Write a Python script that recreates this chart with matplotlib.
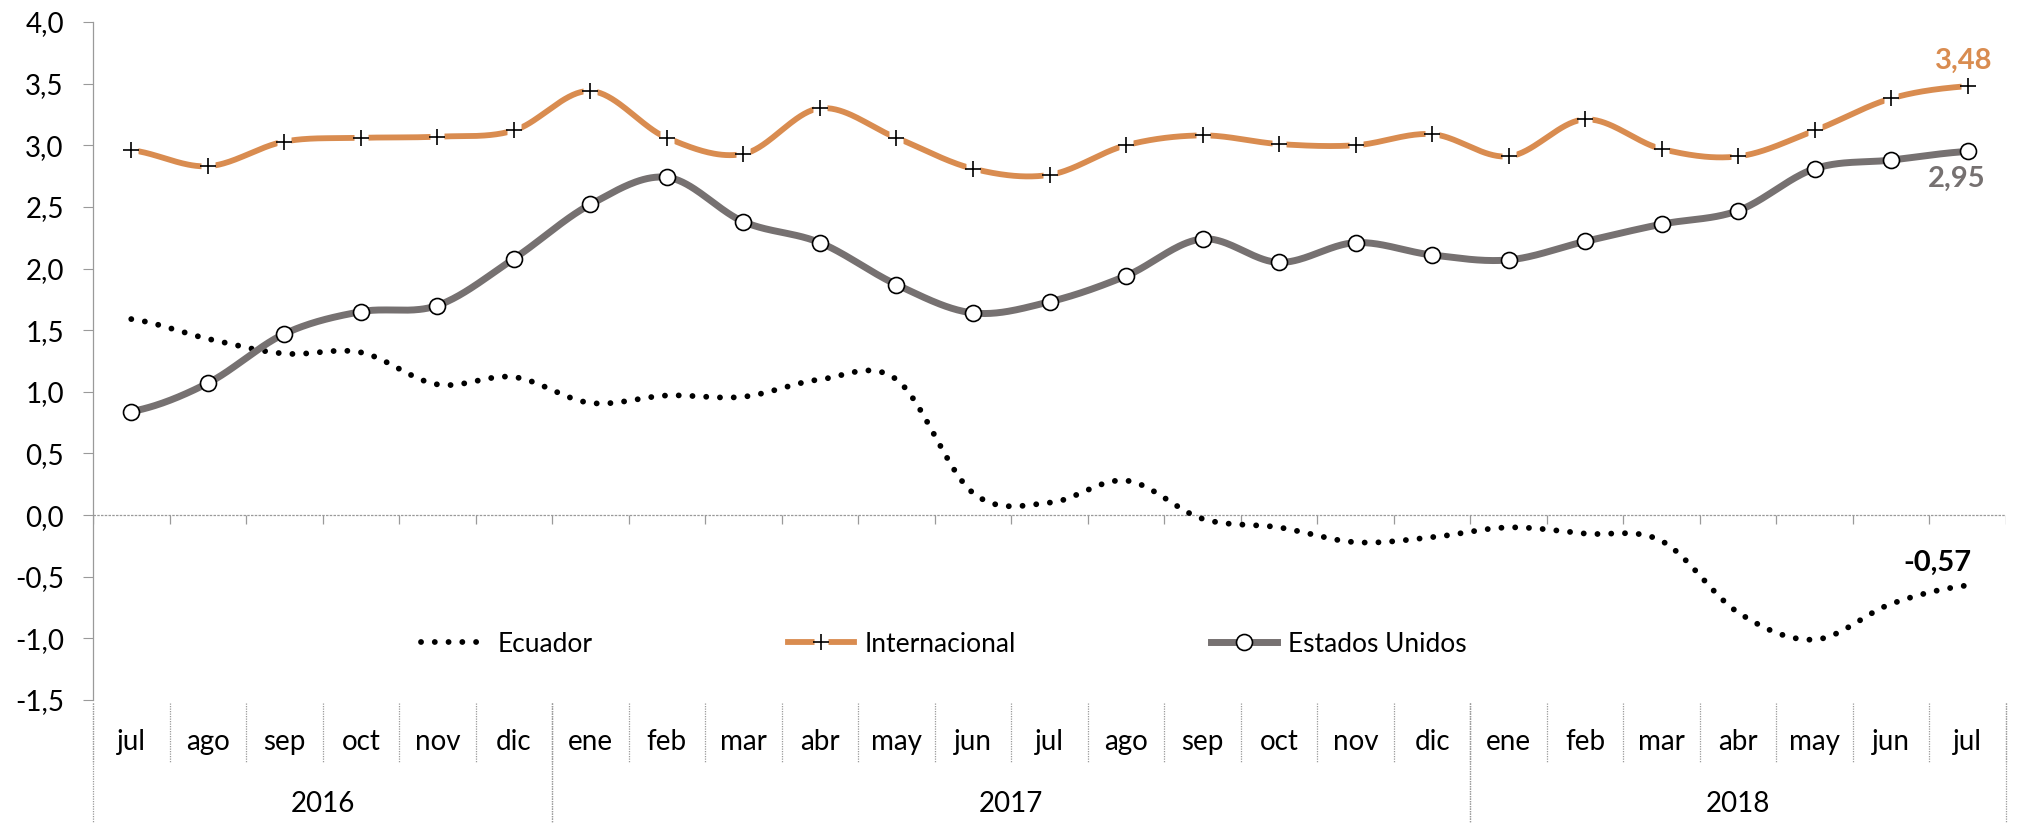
import numpy as np
import matplotlib
matplotlib.use("Agg")
import matplotlib.pyplot as plt
from matplotlib.lines import Line2D
from matplotlib.transforms import blended_transform_factory

plt.rcParams['font.family'] = ['Lato', 'DejaVu Sans']

# data
months = ['jul', 'ago', 'sep', 'oct', 'nov', 'dic',
          'ene', 'feb', 'mar', 'abr', 'may', 'jun', 'jul', 'ago', 'sep', 'oct', 'nov', 'dic',
          'ene', 'feb', 'mar', 'abr', 'may', 'jun', 'jul']
years = ['2016', '2017', '2018']
year_spans = [(0, 6), (6, 18), (18, 25)]

ecuador = [1.59, 1.43, 1.31, 1.32, 1.06, 1.12, 0.91, 0.97, 0.96, 1.10, 1.10, 0.18,
           0.10, 0.28, -0.03, -0.10, -0.22, -0.18, -0.10, -0.15, -0.21, -0.79, -1.01,
           -0.72, -0.57]
internacional = [2.96, 2.83, 3.03, 3.06, 3.07, 3.12, 3.44, 3.06, 2.93, 3.30, 3.06, 2.81,
                 2.76, 3.00, 3.08, 3.01, 3.00, 3.09, 2.91, 3.21, 2.97, 2.91, 3.12,
                 3.38, 3.48]
eeuu = [0.84, 1.07, 1.47, 1.65, 1.70, 2.08, 2.52, 2.74, 2.38, 2.21, 1.87, 1.64, 1.73,
        1.94, 2.24, 2.05, 2.21, 2.11, 2.07, 2.22, 2.36, 2.47, 2.81, 2.88, 2.95]

orange = '#D98C50'
gray = '#767171'
axis_col = '#9A9A9A'


def smooth(vals, n=40):
    # Excel-like smoothed line (Bezier through points, 1/6 tangents)
    y = np.asarray(vals, float)
    p = np.concatenate([[y[0]], y, [y[-1]]])
    t = np.linspace(0, 1, n)
    xs, ys = [], []
    for i in range(len(y) - 1):
        p0, p1, p2, p3 = p[i], p[i + 1], p[i + 2], p[i + 3]
        c1 = p1 + (p2 - p0) / 6
        c2 = p2 - (p3 - p1) / 6
        b = (1 - t) ** 3 * p1 + 3 * (1 - t) ** 2 * t * c1 + 3 * (1 - t) * t ** 2 * c2 + t ** 3 * p2
        xs.append(i + t)
        ys.append(b)
    return np.concatenate(xs), np.concatenate(ys)


W, H = 2028, 823
fig = plt.figure(figsize=(W / 100, H / 100), dpi=100)
ax = fig.add_axes([93 / W, 1 - 700 / H, (2006 - 93) / W, (700 - 22) / H])

x = np.arange(len(months))

# Ecuador dotted
sx, sy = smooth(ecuador)
ax.plot(sx, sy, color='black', lw=4.2, linestyle=(0, (0.01, 2.35)),
        dash_capstyle='round', zorder=3)

# Internacional
sx, sy = smooth(internacional)
ax.plot(sx, sy, color=orange, lw=4.2, solid_capstyle='butt', zorder=3)
ax.plot(x, internacional, ls='none', marker='s', ms=10, mfc='white', mec='none', zorder=4)
ax.plot(x, internacional, ls='none', marker='+', ms=12, mew=1.2, color='black', zorder=5)

# Estados Unidos
sx, sy = smooth(eeuu)
ax.plot(sx, sy, color=gray, lw=5.0, solid_capstyle='round', zorder=3)
ax.plot(x, eeuu, ls='none', marker='o', ms=11.5, mfc='white', mec='black', mew=1.2, zorder=5)

# end labels
ax.annotate('3,48', (x[-1], internacional[-1]), xytext=(-3, 18), textcoords='offset points',
            ha='center', va='center', fontsize=21, fontweight='bold', color=orange)
ax.annotate('2,95', (x[-1], eeuu[-1]), xytext=(-8, -20), textcoords='offset points',
            ha='center', va='center', fontsize=21, fontweight='bold', color=gray)
ax.annotate('-0,57', (x[-1], ecuador[-1]), xytext=(-22, 16), textcoords='offset points',
            ha='center', va='center', fontsize=21, fontweight='bold', color='black')

# axes
ax.set_xlim(-0.5, len(months) - 0.5)
ax.set_ylim(-1.5, 4.0)
ax.set_yticks(np.arange(-1.5, 4.01, 0.5))
ax.set_yticklabels([f'{v:.1f}'.replace('.', ',') for v in np.arange(-1.5, 4.01, 0.5)])
ax.tick_params(axis='y', labelsize=20, length=7, width=0.8, color=axis_col, pad=14)
ax.set_xticks([])
for s in ['top', 'right', 'bottom']:
    ax.spines[s].set_visible(False)
ax.spines['left'].set_color(axis_col)
ax.spines['left'].set_linewidth(0.9)
ax.spines['left'].set_linestyle((0, (1, 1)))

ax.axhline(0, color=axis_col, lw=0.9, ls=(0, (2, 1)), zorder=1)
bounds = np.arange(-0.5, len(months), 1.0)
ax.vlines(bounds, -0.07, 0, color=axis_col, lw=0.9, zorder=1)

# category axis below the plot
tr = blended_transform_factory(ax.transData, fig.transFigure)
y_top = 1 - 703 / H
for b in bounds:
    ax.add_line(Line2D([b, b], [y_top, 1 - 762 / H], transform=tr, color=axis_col,
                       lw=0.9, ls=(0, (1, 1)), clip_on=False))
for i, m in enumerate(months):
    ax.text(i, 1 - 742 / H, m, transform=tr, ha='center', va='center', fontsize=20)
for (a, b), yr in zip(year_spans, years):
    for e in (a - 0.5, b - 0.5):
        ax.add_line(Line2D([e, e], [y_top, 0], transform=tr, color=axis_col,
                           lw=0.9, ls=(0, (1, 1)), clip_on=False))
    ax.text((a + b - 1) / 2, 1 - 804 / H, yr, transform=tr, ha='center', va='center', fontsize=20)

# legend
h_ec = Line2D([], [], color='black', lw=4.2, linestyle=(0, (0.01, 2.35)), dash_capstyle='round')
h_in = (Line2D([], [], color=orange, lw=4.2),
        Line2D([], [], ls='none', marker='s', ms=10, mfc='white', mec='none'),
        Line2D([], [], ls='none', marker='+', ms=12, mew=1.2, color='black'))
h_us = (Line2D([], [], color=gray, lw=5.0),
        Line2D([], [], ls='none', marker='o', ms=11.5, mfc='white', mec='black', mew=1.2))
leg = ax.legend([h_ec, h_in, h_us], ['Ecuador', 'Internacional', 'Estados Unidos'],
                ncol=3, frameon=False, fontsize=19, handlelength=2.5, handletextpad=0.4,
                columnspacing=7.4, loc='center', bbox_to_anchor=(944 / W, 1 - 644 / H),
                bbox_transform=fig.transFigure)

fig.savefig('out.png', dpi=100)
